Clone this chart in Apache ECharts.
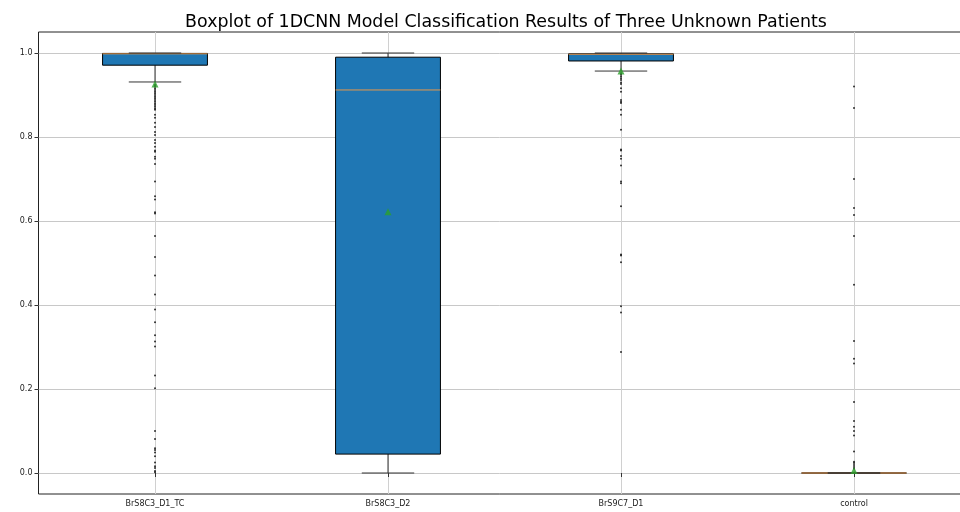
<!DOCTYPE html>
<html>
<head>
<meta charset="utf-8">
<script src="https://cdn.jsdelivr.net/npm/echarts@6/dist/echarts.min.js"></script>
<style>
  html, body { margin: 0; padding: 0; background: #fff; }
</style>
</head>
<body>
<div id="myChart" style="width: 960px; height: 512px;"></div>
<script>
// categories and box statistics
const categories = ['BrS8C3_D1_TC', 'BrS8C3_D2', 'BrS9C7_D1', 'control'];
const lows   = [0.931, 0.0,   0.957, 0.0];
const q1s    = [0.971, 0.045, 0.981, 0.0];
const medians= [0.998, 0.912, 0.997, 0.0];
const q3s    = [0.999, 0.990, 0.998, 0.0];
const highs  = [1.0,   1.0,   1.0,   0.0];
const means  = [0.926, 0.622, 0.957, 0.006];

// outliers per category
const outliers1 = [0.924, 0.92, 0.916, 0.912, 0.908, 0.904, 0.9, 0.896, 0.892, 0.888, 0.884, 0.88,
  0.876, 0.872, 0.868, 0.865, 0.853, 0.846, 0.834, 0.824, 0.812, 0.805, 0.793, 0.786, 0.777,
  0.768, 0.765, 0.753, 0.748, 0.736, 0.694, 0.659, 0.651, 0.621, 0.618, 0.564, 0.514, 0.470,
  0.425, 0.389, 0.359, 0.328, 0.313, 0.301, 0.232, 0.202, 0.100, 0.081, 0.059, 0.055, 0.049,
  0.040, 0.025, 0.016, 0.012, 0.005, 0.002];
const outliers2 = [];
const outliers3 = [0.952, 0.948, 0.944, 0.940, 0.936, 0.930, 0.926, 0.916, 0.908, 0.888, 0.884,
  0.881, 0.865, 0.853, 0.817, 0.770, 0.768, 0.755, 0.748, 0.732, 0.694, 0.690, 0.635, 0.520,
  0.518, 0.502, 0.397, 0.382, 0.288];
const outliers4 = [0.920, 0.869, 0.700, 0.631, 0.614, 0.564, 0.448, 0.314, 0.272, 0.261, 0.169,
  0.124, 0.110, 0.100, 0.089, 0.051, 0.027, 0.024, 0.019, 0.014, 0.010];

const yTicks = [0, 0.2, 0.4, 0.6, 0.8, 1.0];
const xTicks = [1, 2, 3, 4];

const boxData = categories.map((c, i) => [i + 1, lows[i], q1s[i], medians[i], q3s[i], highs[i]]);
const meanData = means.map((m, i) => [i + 1, m]);
const outlierData = [];
[outliers1, outliers2, outliers3, outliers4].forEach((arr, i) => {
  arr.forEach(v => outlierData.push([i + 1, v]));
});

const myChart = echarts.init(document.getElementById('myChart'));

function renderBox(params, api) {
  const x = api.value(0);
  const half = api.size([0.45, 0])[0] / 2;
  const capHalf = half / 2;
  const pLow = api.coord([x, api.value(1)]);
  const pQ1 = api.coord([x, api.value(2)]);
  const pMed = api.coord([x, api.value(3)]);
  const pQ3 = api.coord([x, api.value(4)]);
  const pHigh = api.coord([x, api.value(5)]);
  const cx = pLow[0];
  const lineStyle = { stroke: '#333', lineWidth: 1 };
  return {
    type: 'group',
    children: [
      { type: 'line', shape: { x1: cx, y1: pQ1[1], x2: cx, y2: pLow[1] }, style: lineStyle },
      { type: 'line', shape: { x1: cx, y1: pQ3[1], x2: cx, y2: pHigh[1] }, style: lineStyle },
      { type: 'rect', shape: { x: cx - half, y: pQ3[1], width: half * 2, height: pQ1[1] - pQ3[1] },
        style: { fill: '#1f77b4', stroke: '#000', lineWidth: 1 } },
      { type: 'line', shape: { x1: cx - half, y1: pMed[1], x2: cx + half, y2: pMed[1] },
        style: { stroke: '#e8974a', lineWidth: 1 } },
      { type: 'line', shape: { x1: cx - capHalf, y1: pLow[1], x2: cx + capHalf, y2: pLow[1] }, style: lineStyle },
      { type: 'line', shape: { x1: cx - capHalf, y1: pHigh[1], x2: cx + capHalf, y2: pHigh[1] }, style: lineStyle }
    ]
  };
}

myChart.setOption({
  animation: false,
  backgroundColor: '#fff',
  title: {
    text: 'Boxplot of 1DCNN Model Classification Results of Three Unknown Patients',
    left: 501,
    top: 9,
    textAlign: 'center',
    textStyle: { fontFamily: 'DejaVu Sans', fontSize: 17.4, fontWeight: 'normal', color: '#000' }
  },
  grid: {
    left: 38.5,
    top: 32,
    width: 932,
    height: 462,
    outerBoundsMode: 'none',
    show: true,
    borderColor: '#222',
    borderWidth: 1
  },
  xAxis: {
    type: 'value',
    min: 0.5,
    max: 4.5,
    axisLine: { show: false },
    axisTick: { show: true, customValues: xTicks, length: 4, lineStyle: { color: '#333' } },
    axisLabel: {
      customValues: xTicks,
      formatter: v => categories[Math.round(v) - 1],
      fontFamily: 'DejaVu Sans', fontSize: 8, color: '#222', margin: 6
    },
    splitLine: { show: true, lineStyle: { color: '#d0d0d0', width: 1 } }
  },
  yAxis: {
    type: 'value',
    min: -0.05,
    max: 1.05,
    axisLine: { show: false },
    axisTick: { show: true, customValues: yTicks, length: 4, lineStyle: { color: '#333' } },
    axisLabel: {
      customValues: yTicks,
      formatter: v => v.toFixed(1),
      fontFamily: 'DejaVu Sans', fontSize: 8, color: '#222', margin: 6
    },
    splitLine: { show: true, lineStyle: { color: '#c8c8c8', width: 1 } }
  },
  series: [
    {
      type: 'custom',
      renderItem: renderBox,
      data: boxData,
      encode: { x: 0, y: [1, 2, 3, 4, 5] },
      z: 2
    },
    {
      type: 'scatter',
      data: outlierData,
      symbol: 'circle',
      symbolSize: 2,
      itemStyle: { color: '#000' },
      z: 3
    },
    {
      type: 'scatter',
      data: meanData,
      symbol: 'triangle',
      symbolSize: 7,
      itemStyle: { color: '#2ca02c' },
      z: 4
    }
  ]
});
</script>
</body>
</html>
